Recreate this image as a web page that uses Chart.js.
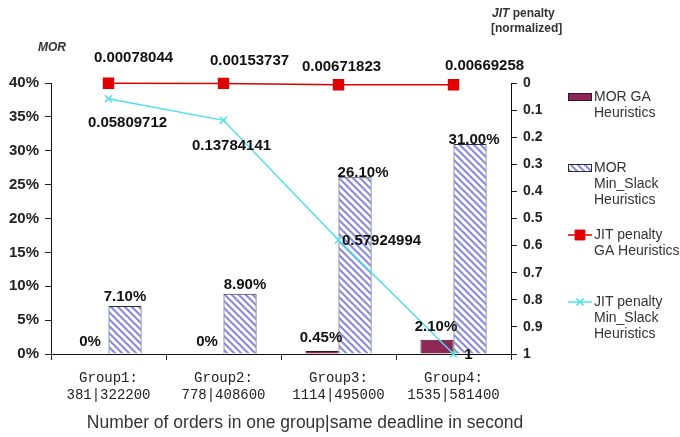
<!DOCTYPE html>
<html>
<head>
<meta charset="utf-8">
<script src="https://cdn.jsdelivr.net/npm/chart.js@4.4.0/dist/chart.umd.min.js"></script>
<style>
  html, body { margin: 0; padding: 0; background: #fff; }
</style>
</head>
<body>
<canvas id="chart" width="680" height="437"></canvas>
<script>
// Chart data
const groups = [['Group1:', '381|322200'], ['Group2:', '778|408600'], ['Group3:', '1114|495000'], ['Group4:', '1535|581400']];
const morGA = [0, 0, 0.45, 2.10];             // MOR GA Heuristics (%)
const morMinSlack = [7.10, 8.90, 26.10, 31.00]; // MOR Min_Slack Heuristics (%)
const jitGA = [0.00078044, 0.00153737, 0.00671823, 0.00669258];
const jitMinSlack = [0.05809712, 0.13784141, 0.57924994, 1];

// Label nudges (pixels) relative to the drawn element
const jitGAShift = [[25, -25], [26, -23], [3, -18], [31, -19]];
const jitMinSlackShift = [[19, 24], [8, 26], [43, 1], [15, 1]];
const morGAShift = [[-2, -12], [0, -12], [-1, -13], [-1, -13]];
const morMinSlackShift = [[0, -9], [5, -9], [8, -4], [4, -4]];

const FONT = '"Liberation Sans", Arial, sans-serif';
const ctx = document.getElementById('chart').getContext('2d');

// Diagonal hatch for the Min_Slack bars
function makeHatch() {
    const c = document.createElement('canvas');
    c.width = 7; c.height = 7;
    const g = c.getContext('2d');
    g.fillStyle = '#ffffff';
    g.fillRect(0, 0, 7, 7);
    g.strokeStyle = '#8c8ce2';
    g.lineWidth = 2.2;
    g.beginPath();
    g.moveTo(-1, -1); g.lineTo(8, 8);
    g.moveTo(-1, 6); g.lineTo(1, 8);
    g.moveTo(6, -1); g.lineTo(8, 1);
    g.stroke();
    return ctx.createPattern(c, 'repeat');
}
const hatch = makeHatch();

// Data labels next to bars and points
const valueLabels = {
    id: 'valueLabels',
    afterDatasetsDraw(chart) {
        const c = chart.ctx;
        c.save();
        c.font = 'bold 15px ' + FONT;
        c.fillStyle = '#111';
        c.textAlign = 'center';
        c.textBaseline = 'middle';
        chart.data.datasets.forEach((ds, di) => {
            const meta = chart.getDatasetMeta(di);
            meta.data.forEach((el, i) => {
                const v = ds.data[i];
                const shift = ds.labelShift[i];
                let text;
                if (ds.type === 'bar') {
                    text = v === 0 ? '0%' : v.toFixed(2) + '%';
                } else {
                    text = String(v);
                }
                c.fillText(text, el.x + shift[0], el.y + shift[1]);
            });
        });
        c.restore();
    }
};

// Axis titles and legend drawn at the side
const decorations = {
    id: 'decorations',
    afterDraw(chart) {
        const c = chart.ctx;
        const area = chart.chartArea;
        c.save();
        c.fillStyle = '#333';
        c.textBaseline = 'middle';

        // left axis title
        c.font = 'bold italic 12px ' + FONT;
        c.textAlign = 'center';
        c.fillText('MOR', 52, 48);

        // right axis title
        c.textAlign = 'left';
        c.font = 'bold italic 12px ' + FONT;
        c.fillText('JIT', 492, 14);
        const w = c.measureText('JIT ').width;
        c.font = 'bold 12px ' + FONT;
        c.fillText('penalty', 492 + w, 14);
        c.fillText('[normalized]', 491, 29);

        // x axis title
        c.font = '17.5px ' + FONT;
        c.textAlign = 'center';
        c.fillText('Number of orders in one group|same deadline in second', (area.left + area.right) / 2 + 24, 423);

        // legend
        const ds = chart.data.datasets;
        const lx = 568, tx = 594;
        c.font = '14px ' + FONT;
        c.textAlign = 'left';
        const items = [
            { d: ds[2], y: 97, lines: ['MOR GA', 'Heuristics'] },
            { d: ds[3], y: 168, lines: ['MOR', 'Min_Slack', 'Heuristics'] },
            { d: ds[0], y: 235, lines: ['JIT penalty', 'GA Heuristics'] },
            { d: ds[1], y: 302, lines: ['JIT penalty', 'Min_Slack', 'Heuristics'] }
        ];
        items.forEach(it => {
            if (it.d.type === 'bar') {
                c.fillStyle = it.d.backgroundColor;
                c.fillRect(lx, it.y - 3, 24, 6);
                c.strokeStyle = it.d.borderColor;
                c.lineWidth = 1;
                c.strokeRect(lx + 0.5, it.y - 3.5, 23, 7);
            } else {
                c.strokeStyle = it.d.borderColor;
                c.lineWidth = 1.5;
                c.beginPath();
                c.moveTo(lx, it.y);
                c.lineTo(lx + 24, it.y);
                c.stroke();
                c.fillStyle = it.d.pointBackgroundColor || it.d.borderColor;
                c.strokeStyle = it.d.pointBorderColor;
                c.lineWidth = it.d.pointBorderWidth || 1;
                Chart.helpers.drawPoint(c, {
                    pointStyle: it.d.pointStyle,
                    radius: it.d.pointRadius,
                    borderWidth: it.d.pointBorderWidth || 1
                }, lx + 12, it.y);
            }
            c.fillStyle = '#333';
            it.lines.forEach((t, k) => c.fillText(t, tx, it.y + k * 16));
        });
        c.restore();
    }
};

new Chart(ctx, {
    data: {
        labels: groups,
        datasets: [
            {
                type: 'line',
                label: 'JIT penalty GA Heuristics',
                data: jitGA,
                yAxisID: 'y2',
                borderColor: '#d90000',
                backgroundColor: '#e00000',
                borderWidth: 1.5,
                pointStyle: 'rect',
                pointRadius: 7,
                pointBackgroundColor: '#e00000',
                pointBorderColor: '#e00000',
                labelShift: jitGAShift,
                clip: false,
                order: 0
            },
            {
                type: 'line',
                label: 'JIT penalty Min_Slack Heuristics',
                data: jitMinSlack,
                yAxisID: 'y2',
                borderColor: '#4ee0ea',
                backgroundColor: '#4ee0ea',
                borderWidth: 1.5,
                pointStyle: 'crossRot',
                pointRadius: 5,
                pointBorderWidth: 1.5,
                pointBorderColor: '#4ee0ea',
                labelShift: jitMinSlackShift,
                clip: false,
                order: 0
            },
            {
                type: 'bar',
                label: 'MOR GA Heuristics',
                data: morGA,
                yAxisID: 'y',
                backgroundColor: '#8e2656',
                borderColor: '#3a1526',
                borderWidth: 1,
                labelShift: morGAShift,
                order: 1
            },
            {
                type: 'bar',
                label: 'MOR Min_Slack Heuristics',
                data: morMinSlack,
                yAxisID: 'y',
                backgroundColor: hatch,
                borderColor: '#2a2a40',
                borderWidth: 1,
                labelShift: morMinSlackShift,
                order: 1
            }
        ]
    },
    options: {
        responsive: false,
        animation: false,
        devicePixelRatio: 1,
        layout: { padding: { top: 83, left: 0, right: 0, bottom: 0 } },
        datasets: {
            bar: { categoryPercentage: 0.575, barPercentage: 1 }
        },
        plugins: {
            legend: { display: false },
            tooltip: { enabled: false }
        },
        scales: {
            x: {
                grid: { drawOnChartArea: false, tickLength: 6, color: '#222' },
                border: { color: '#111', width: 1 },
                ticks: {
                    font: { family: '"Liberation Mono", monospace', size: 14 },
                    color: '#222',
                    padding: 10,
                    maxRotation: 0
                },
                afterFit(scale) { scale.height = 83; }
            },
            y: {
                position: 'left',
                min: 0,
                max: 40,
                grid: { drawOnChartArea: false, tickLength: 6, color: '#222' },
                border: { color: '#111', width: 1 },
                ticks: {
                    stepSize: 5,
                    font: { family: FONT, size: 15, weight: 'bold' },
                    color: '#222',
                    padding: 6,
                    callback: v => v + '%'
                },
                afterFit(scale) { scale.width = 51; }
            },
            y2: {
                position: 'right',
                reverse: true,
                min: 0,
                max: 1,
                grid: { drawOnChartArea: false, tickLength: 6, color: '#222' },
                border: { color: '#111', width: 1 },
                ticks: {
                    stepSize: 0.1,
                    font: { family: FONT, size: 14, weight: 'bold' },
                    color: '#222',
                    padding: 6,
                    callback: v => String(Math.round(v * 10) / 10)
                },
                afterFit(scale) { scale.width = 169; }
            }
        }
    },
    plugins: [valueLabels, decorations]
});
</script>
</body>
</html>
